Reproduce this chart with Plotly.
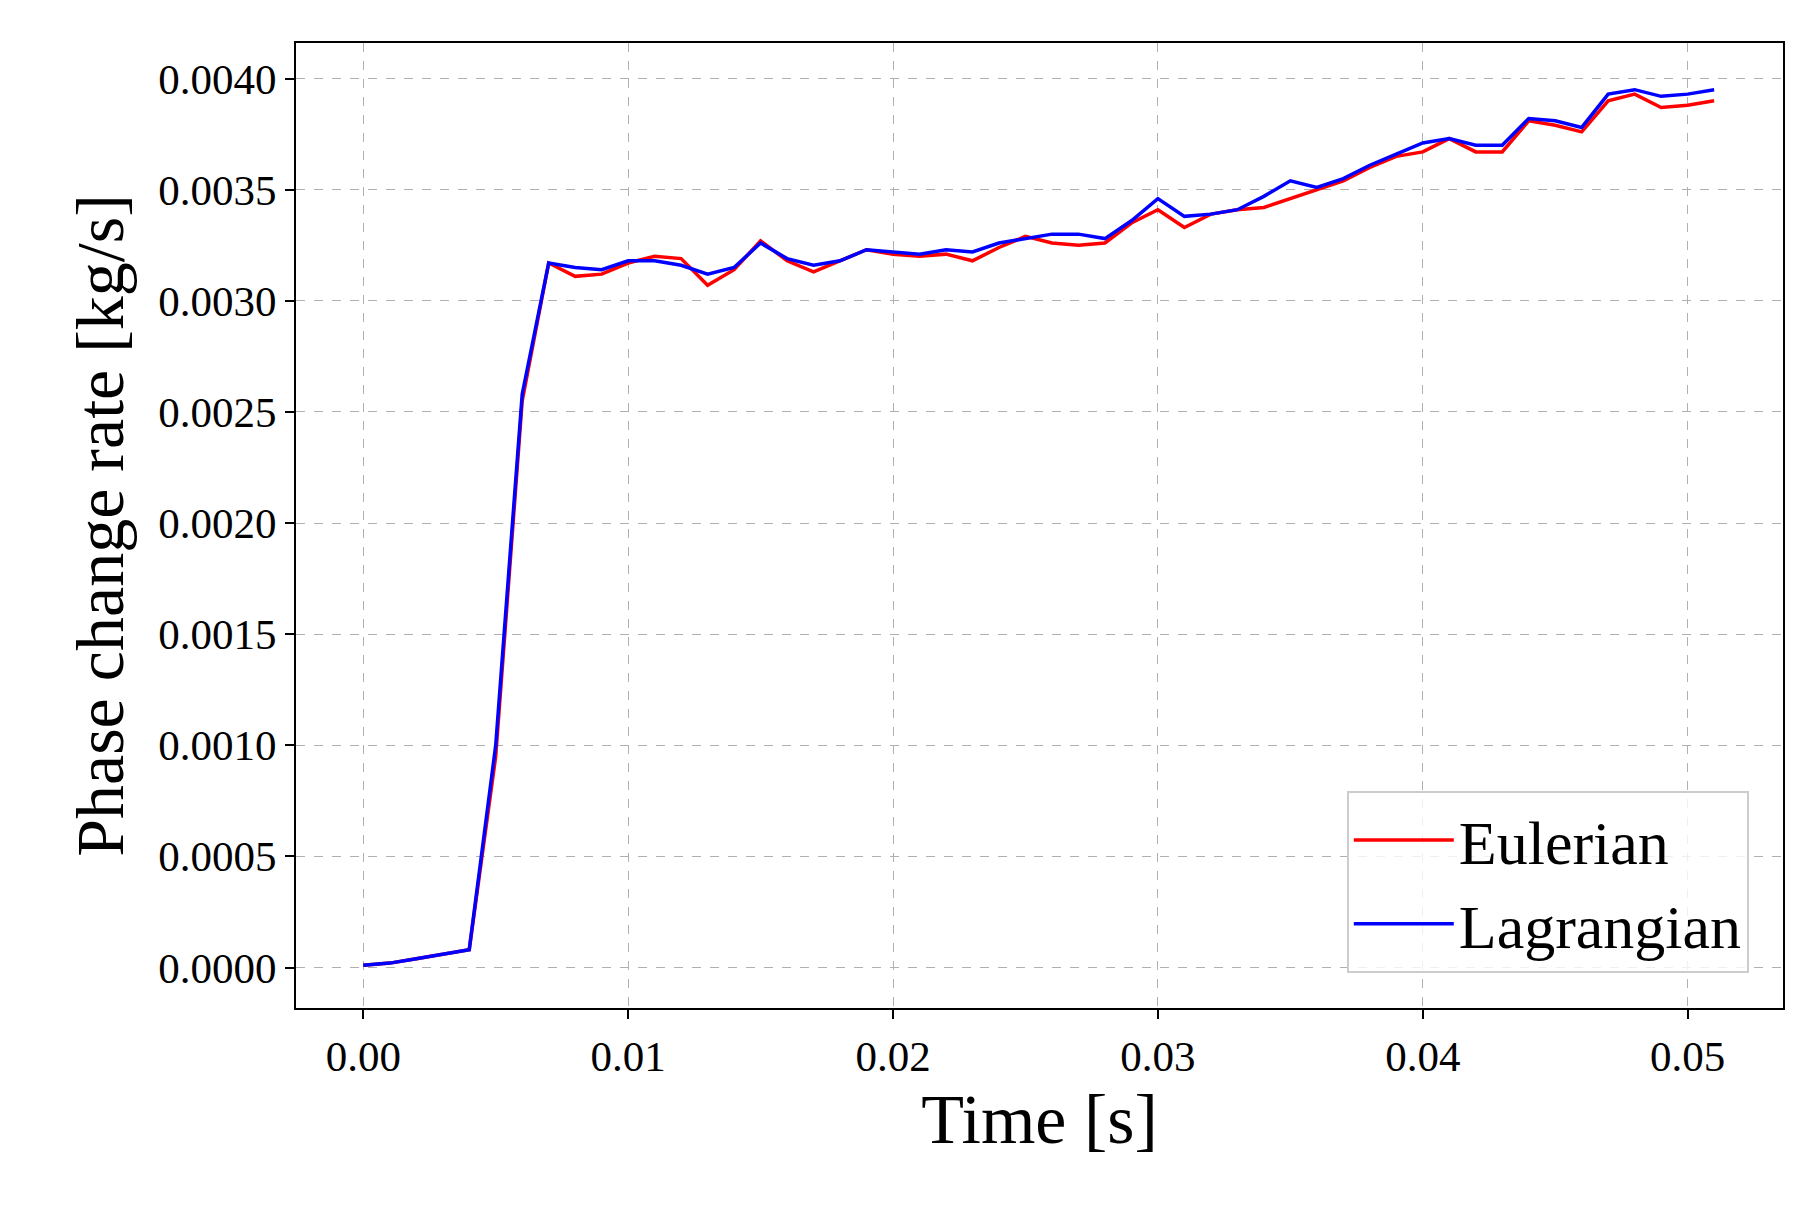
import plotly.graph_objects as go

time = [i*0.001 for i in range(52)]
eulerian = [0.00001,0.00002,0.00004,0.00006,0.00008,0.00095,0.00255,0.00317,0.00311,0.00312,
            0.00317,0.00320,0.00319,0.00307,0.00314,0.00327,0.00318,0.00313,0.00318,0.00323,
            0.00321,0.00320,0.00321,0.00318,0.00324,0.00329,0.00326,0.00325,0.00326,0.00335,
            0.00341,0.00333,0.00339,0.00341,0.00342,0.00346,0.00350,0.00354,0.00360,0.00365,
            0.00367,0.00373,0.00367,0.00367,0.00381,0.00379,0.00376,0.00390,0.00393,0.00387,
            0.00388,0.00390]
lagrangian = [0.00001,0.00002,0.00004,0.00006,0.00008,0.00100,0.00258,0.00317,0.00315,0.00314,
              0.00318,0.00318,0.00316,0.00312,0.00315,0.00326,0.00319,0.00316,0.00318,0.00323,
              0.00322,0.00321,0.00323,0.00322,0.00326,0.00328,0.00330,0.00330,0.00328,0.00336,
              0.00346,0.00338,0.00339,0.00341,0.00347,0.00354,0.00351,0.00355,0.00361,0.00366,
              0.00371,0.00373,0.00370,0.00370,0.00382,0.00381,0.00378,0.00393,0.00395,0.00392,
              0.00393,0.00395]
xticks = [0, 0.01, 0.02, 0.03, 0.04, 0.05]
yticks = [i*0.0005 for i in range(9)]

font = "Liberation Serif"
fig = go.Figure()
fig.add_trace(go.Scatter(x=time, y=eulerian, mode="lines", name="Eulerian", line=dict(color="red", width=3.5)))
fig.add_trace(go.Scatter(x=time, y=lagrangian, mode="lines", name="Lagrangian", line=dict(color="blue", width=3.5)))

axis_common = dict(showline=True, linecolor="black", linewidth=2, mirror=True, ticks="outside",
                   ticklen=9, tickwidth=1.5, tickcolor="black", showgrid=True, gridcolor="#b0b0b0",
                   griddash="dash", gridwidth=1, zeroline=False, tickfont=dict(family=font, size=43, color="black"))
fig.update_layout(
    width=1819, height=1206, plot_bgcolor="white", paper_bgcolor="white",
    margin=dict(l=288, r=44, t=35, b=206),
    xaxis=dict(range=[-0.00254, 0.0536], tickvals=xticks, ticktext=[f"{v:.2f}" for v in xticks],
               title=dict(text="Time [s]", font=dict(family=font, size=70, color="black"), standoff=15), **axis_common),
    yaxis=dict(range=[-0.000182, 0.00416], tickvals=yticks, ticktext=[f"{v:.4f}" for v in yticks],
               title=dict(text="Phase change rate [kg/s]", font=dict(family=font, size=68, color="black"), standoff=12), **axis_common),
    legend=dict(x=0.977, y=0.036, xanchor="right", yanchor="bottom", bgcolor="rgba(255,255,255,0.8)",
                bordercolor="#cccccc", borderwidth=2, font=dict(family=font, size=62, color="black"),
                itemwidth=100, tracegroupgap=10),
)
fig.write_html("out.html")
